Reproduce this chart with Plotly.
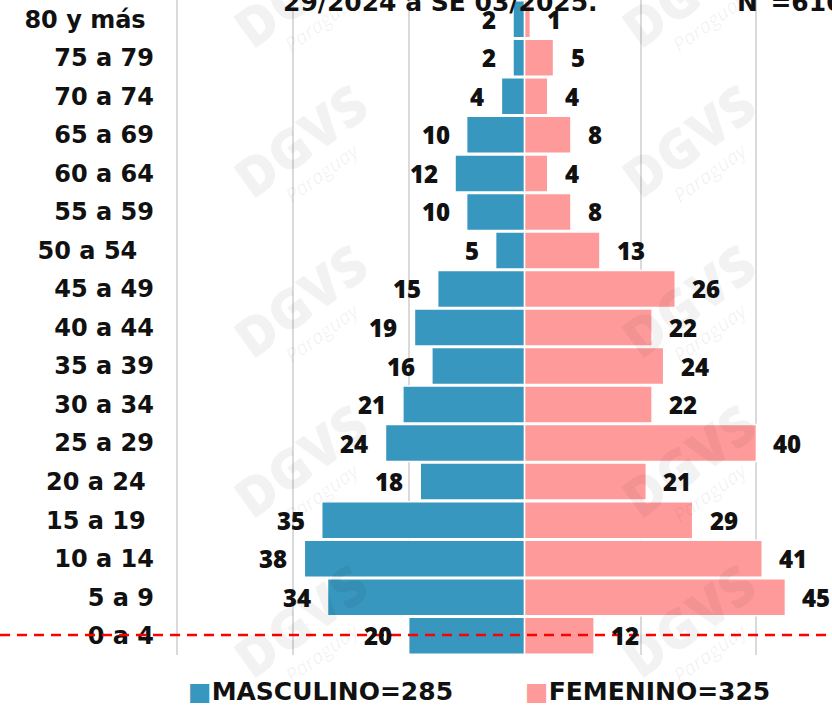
import plotly.graph_objects as go

# ── Data ───────────────────────────────────────────────────────────────────
AGE_GROUPS = [
    "0 a 4", "5 a 9", "10 a 14", "15 a 19", "20 a 24", "25 a 29", "30 a 34",
    "35 a 39", "40 a 44", "45 a 49", "50 a 54", "55 a 59", "60 a 64",
    "65 a 69", "70 a 74", "75 a 79", "80 y más",
]
TICK_LABELS = [
    "0 a 4", "5 a 9", "10 a 14", "15 a 19 ", "20 a 24 ", "25 a 29", "30 a 34",
    "35 a 39", "40 a 44", "45 a 49", "50 a 54  ", "55 a 59", "60 a 64",
    "65 a 69", "70 a 74", "75 a 79", "80 y más ",
]
MASCULINO = [20, 34, 38, 35, 18, 24, 21, 16, 19, 15, 5, 10, 12, 10, 4, 2, 2]
FEMENINO = [12, 45, 41, 29, 21, 40, 22, 24, 22, 26, 13, 8, 4, 8, 4, 5, 1]

TOTAL_M = 285
TOTAL_F = 325

# ── Style ──────────────────────────────────────────────────────────────────
BLUE = "#3897BF"
PINK = "#FF9A9A"
WIDE = "DejaVu Sans"
NUMS = "Open Sans"

W, H = 832, 708
L, R, T, B = 171, 6, 0, 53
PW, PH = W - L - R, H - T - B


def px(x):
    return (x - L) / PW


def py(y):
    return 1 - (y - T) / PH


fig = go.Figure()
fig.add_trace(go.Bar(
    y=list(range(len(AGE_GROUPS))), x=[-v for v in MASCULINO],
    orientation="h", name=f"MASCULINO={TOTAL_M}",
    marker=dict(color=BLUE, line=dict(color="white", width=1.5)),
    hoverinfo="skip",
))
fig.add_trace(go.Bar(
    y=list(range(len(AGE_GROUPS))), x=FEMENINO,
    orientation="h", name=f"FEMENINO={TOTAL_F}",
    marker=dict(color=PINK, line=dict(color="white", width=1.5)),
    hoverinfo="skip",
))

annotations = []

# watermarks
for wx in (300, 688):
    for wy in (-10, 140, 300, 460, 620):
        annotations.append(dict(
            xref="paper", yref="paper", x=px(wx), y=py(wy),
            xanchor="center", yanchor="middle",
            text="DGVS", showarrow=False, textangle=-36,
            font=dict(family=NUMS, size=54, color="rgba(0,0,0,0.05)", weight=800),
        ))
        annotations.append(dict(
            xref="paper", yref="paper", x=px(wx + 22), y=py(wy + 32),
            xanchor="center", yanchor="middle",
            text="<i>Paraguay</i>", showarrow=False, textangle=-36,
            font=dict(family=NUMS, size=20, color="rgba(0,0,0,0.06)"),
        ))

lab_font = dict(family=NUMS, size=24, color="#111111", weight=800)
for i, (m, f) in enumerate(zip(MASCULINO, FEMENINO)):
    annotations.append(dict(x=-m, y=i, text=str(m), showarrow=False,
                            xanchor="right", yanchor="middle", xshift=-15,
                            font=lab_font))
    annotations.append(dict(x=f, y=i, text=str(f), showarrow=False,
                            xanchor="left", yanchor="middle", xshift=15,
                            font=lab_font))

# cut-off title pieces at the top
title_font = dict(family=WIDE, size=25, color="#111111", weight="bold")
annotations.append(dict(
    xref="paper", yref="paper", x=px(440), y=py(3),
    xanchor="center", yanchor="middle",
    text="29/2024 a SE 03/2025.", showarrow=False, font=title_font,
))
annotations.append(dict(
    xref="paper", yref="paper", x=px(735), y=py(3),
    xanchor="left", yanchor="middle",
    text="N°=610", showarrow=False, font=title_font,
))

# legend (custom, below the plot)
leg_font = dict(family=WIDE, size=25, color="#111111", weight="bold")
annotations.append(dict(
    xref="paper", yref="paper", x=px(186), y=py(692),
    xanchor="left", yanchor="middle",
    text=f"<span style='color:{BLUE}'>■</span>MASCULINO={TOTAL_M}",
    showarrow=False, font=leg_font,
))
annotations.append(dict(
    xref="paper", yref="paper", x=px(523), y=py(692),
    xanchor="left", yanchor="middle",
    text=f"<span style='color:{PINK}'>■</span>FEMENINO={TOTAL_F}",
    showarrow=False, font=leg_font,
))

fig.update_layout(
    width=W, height=H,
    margin=dict(l=L, r=R, t=T, b=B, autoexpand=False),
    paper_bgcolor="white", plot_bgcolor="white",
    barmode="relative", bargap=0.04,
    showlegend=False,
    annotations=annotations,
    shapes=[dict(
        type="line", xref="paper", yref="y",
        x0=px(0), x1=px(W), y0=0.02, y1=0.02,
        line=dict(color="#FF0000", width=2.5, dash="10px,7px"),
        layer="above",
    )],
    xaxis=dict(
        range=[-61, 52], tickvals=[-60, -40, -20, 0, 20, 40],
        showticklabels=False, showgrid=True, gridcolor="#DADADA",
        gridwidth=1.5, zeroline=False, showline=False, automargin=False,
    ),
    yaxis=dict(
        range=[-0.5, len(AGE_GROUPS) - 0.5],
        tickvals=list(range(len(AGE_GROUPS))), ticktext=TICK_LABELS,
        tickfont=dict(family=WIDE, size=24, color="#111111", weight="bold"),
        ticklabelstandoff=16, showgrid=False, zeroline=False, showline=False,
        automargin=False,
    ),
)

fig.write_html(
    "out.html",
    config={"displayModeBar": False},
    post_script="document.body.style.margin='0';",
)
